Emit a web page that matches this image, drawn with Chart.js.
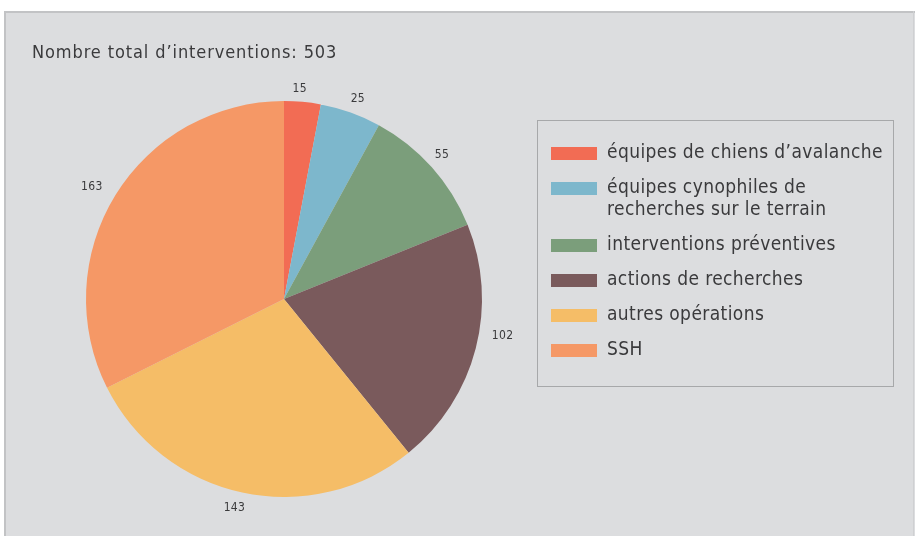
<!DOCTYPE html>
<html>
<head>
<meta charset="utf-8">
<script src="https://cdn.jsdelivr.net/npm/chart.js@4"></script>
<style>
html,body{margin:0;padding:0;background:#fff;}
#wrap{position:relative;width:915px;height:536px;}
</style>
</head>
<body>
<div id="wrap"><canvas id="c" width="915" height="536"></canvas></div>
<script>
const titleText = "Nombre total d\u2019interventions: 503";
const categories = [
  "équipes de chiens d\u2019avalanche",
  ["équipes cynophiles de", "recherches sur le terrain"],
  "interventions préventives",
  "actions de recherches",
  "autres opérations",
  "SSH"
];
const values = [15, 25, 55, 102, 143, 163];
const colors = ["#f26c54", "#7db7cc", "#7b9e7b", "#7a5a5c", "#f5bd67", "#f59866"];
// small placement nudges for the value labels (px)
const labelNudgeX = [-5, -1, -8, 0, -2, 0];
const labelNudgeY = [4, 2, -1, -17, -1, 1];

const FONT = "'Liberation Sans Narrow', 'DejaVu Sans Condensed', 'Liberation Sans', sans-serif";
const TEXT = "#3a3a3c";

const panelPlugin = {
  id: 'panel',
  beforeDraw(chart) {
    const ctx = chart.ctx;
    ctx.save();
    ctx.fillStyle = '#ffffff';
    ctx.fillRect(0, 0, 915, 536);
    ctx.fillStyle = '#dcdddf';
    ctx.fillRect(4, 11, 911, 525);
    ctx.fillStyle = '#c2c3c5';
    ctx.fillRect(4, 11, 911, 2);
    ctx.fillRect(4, 11, 2, 525);
    ctx.fillStyle = '#cfd0d2';
    ctx.fillRect(913, 11, 1, 525);
    ctx.restore();
  },
  afterDraw(chart) {
    const ctx = chart.ctx;
    ctx.save();
    // title
    ctx.fillStyle = TEXT;
    ctx.font = "18px " + FONT;
    ctx.letterSpacing = '0.9px';
    ctx.textBaseline = 'middle';
    ctx.textAlign = 'left';
    ctx.fillText(titleText, 32, 53);
    // value labels
    const meta = chart.getDatasetMeta(0);
    ctx.font = "12px " + FONT;
    ctx.letterSpacing = '0.3px';
    ctx.textAlign = 'center';
    meta.data.forEach((arc, i) => {
      const p = arc.getProps(['x', 'y', 'startAngle', 'endAngle', 'outerRadius']);
      const mid = (p.startAngle + p.endAngle) / 2;
      const r = p.outerRadius + 17;
      const lx = p.x + Math.cos(mid) * r;
      const ly = p.y + Math.sin(mid) * r;
      const w = ctx.measureText(String(values[i])).width;
      ctx.fillText(String(values[i]), lx + Math.cos(mid) * w / 2 + labelNudgeX[i], ly + labelNudgeY[i]);
    });
    // legend box
    ctx.strokeStyle = '#a7a8aa';
    ctx.lineWidth = 1;
    ctx.strokeRect(537.5, 120.5, 356, 266);
    ctx.font = "19px " + FONT;
    ctx.letterSpacing = '0.4px';
    ctx.textAlign = 'left';
    const ds = chart.data.datasets[0];
    let y = 153;
    chart.data.labels.forEach((lab, i) => {
      const lines = Array.isArray(lab) ? lab : [lab];
      ctx.fillStyle = ds.backgroundColor[i];
      ctx.fillRect(551, y - 6, 46, 13);
      ctx.fillStyle = TEXT;
      lines.forEach((ln, k) => {
        ctx.fillText(ln, 607, y + k * 22);
      });
      y += 35 + (lines.length - 1) * 22;
    });
    ctx.restore();
  }
};

new Chart(document.getElementById('c'), {
  type: 'pie',
  data: {
    labels: categories,
    datasets: [{
      data: values,
      backgroundColor: colors,
      borderWidth: 0
    }]
  },
  options: {
    responsive: false,
    animation: false,
    layout: { padding: { left: 86, right: 433, top: 101, bottom: 39 } },
    plugins: {
      legend: { display: false },
      tooltip: { enabled: false },
      title: { display: false }
    }
  },
  plugins: [panelPlugin]
});
</script>
</body>
</html>
